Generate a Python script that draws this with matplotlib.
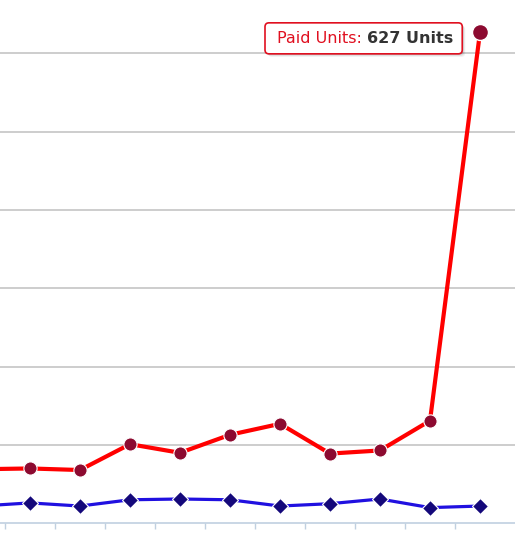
import numpy as np
import matplotlib.pyplot as plt
from matplotlib.patches import FancyBboxPatch
from matplotlib.transforms import Bbox, IdentityTransform

# first point sits just left of the visible area
positions = [-1, 0, 1, 2, 3, 4, 5, 6, 7, 8, 9]
paid_units = [69, 70, 68, 101, 90, 113, 127, 89, 93, 131, 627]
free_units = [22, 26, 22, 30, 31, 30, 22, 25, 31, 20, 22]
grid_vals = [100, 200, 300, 400, 500, 600]
tooltip_label = "Paid Units: "
tooltip_value = f"{paid_units[-1]} Units"

fig = plt.figure(figsize=(5.15, 5.43), dpi=100)
ax = fig.add_axes([0, 0, 1, 1])

# grid + x axis line
ax.set_yticks(grid_vals)
ax.yaxis.grid(True, color="#c0c0c0", linewidth=1.1)
ax.tick_params(axis="y", left=False, labelleft=False)
ax.set_xticks(np.arange(-1.5, 9, 1))
ax.tick_params(axis="x", direction="out", length=4, width=1, color="#c0d0e0",
               labelbottom=False)
for s in ["left", "right", "top"]:
    ax.spines[s].set_visible(False)
ax.spines["bottom"].set_position(("data", 0))
ax.spines["bottom"].set_color("#c0d0e0")
ax.spines["bottom"].set_linewidth(1.2)
ax.set_axisbelow(True)

ax.plot(positions, free_units, color="#2010e0", linewidth=2.3, marker="D",
        markersize=8.5, markerfacecolor="#14087a", markeredgecolor="white",
        markeredgewidth=0.8, zorder=3)
ax.plot(positions, paid_units, color="#ff0000", linewidth=3.0, marker="o",
        markersize=9.5, markerfacecolor="#8c0a30", markeredgecolor="white",
        markeredgewidth=0.8, zorder=4)
# hovered point
ax.plot(positions[-1], paid_units[-1], marker="o", markersize=11.5,
        markerfacecolor="#8c0a30", markeredgecolor="white",
        markeredgewidth=1, zorder=5, clip_on=False)

ax.set_xlim(-0.6, 9.7)
ax.set_ylim(-25.2, 668.3)

# tooltip
t1 = ax.annotate(tooltip_label, xy=(positions[-1], paid_units[-1]),
                 xytext=(-203, -6), textcoords="offset pixels",
                 ha="left", va="center", fontsize=11.5, color="#e01020",
                 zorder=8)
t2 = ax.annotate(tooltip_value, xy=(1, 0), xycoords=t1, xytext=(0, 0),
                 textcoords="offset pixels", ha="left", va="bottom",
                 fontsize=11.5, fontweight="bold", color="#333333", zorder=8)

fig.canvas.draw()
r = fig.canvas.get_renderer()
bb = Bbox.union([t1.get_window_extent(r), t2.get_window_extent(r)])
pad_l, pad_r, pad_y = 12, 9, 8
w = bb.width + pad_l + pad_r
h = bb.height + 2 * pad_y
for k, a in [(3, 0.06), (2, 0.08), (1, 0.1)]:
    shadow = FancyBboxPatch((bb.x0 - pad_l + k, bb.y0 - pad_y - k), w, h,
                            boxstyle="round,pad=0,rounding_size=4",
                            transform=IdentityTransform(), facecolor="black",
                            edgecolor="none", alpha=a, zorder=6, clip_on=False)
    ax.add_artist(shadow)
box = FancyBboxPatch((bb.x0 - pad_l, bb.y0 - pad_y), w, h,
                     boxstyle="round,pad=0,rounding_size=4",
                     transform=IdentityTransform(), facecolor="white",
                     edgecolor="#e01020", linewidth=1.2, zorder=7, clip_on=False)
ax.add_artist(box)

fig.savefig("out.png", dpi=100)
